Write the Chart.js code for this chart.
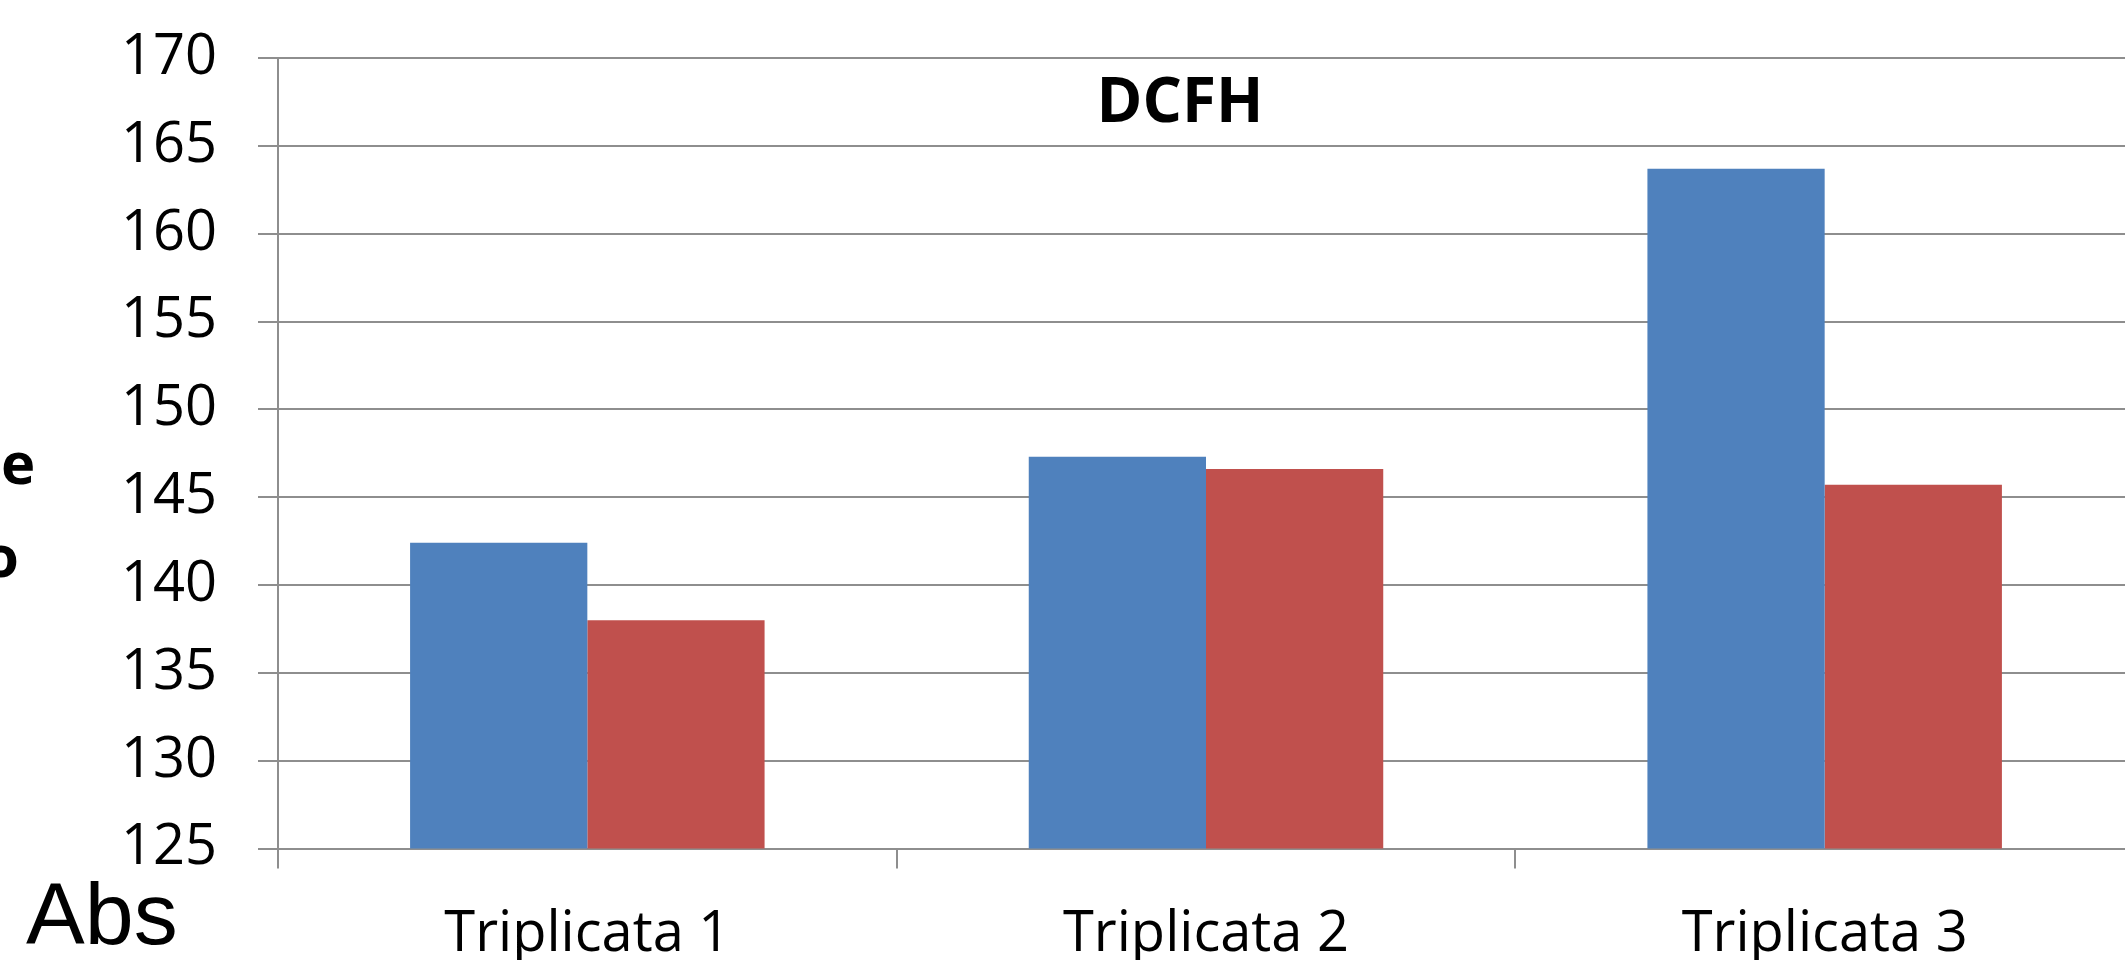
<!DOCTYPE html>
<html lang="pt-BR">
<head>
  <meta charset="UTF-8" />
  <title>DCFH</title>
  <script src="https://cdn.jsdelivr.net/npm/chart.js"></script>
  <style>
    html, body {
      margin: 0;
      padding: 0;
      background: #fff;
      overflow: hidden;
      width: 2125px;
      height: 960px;
    }
    .grafico {
      position: absolute;
      left: 0;
      top: 0;
      width: 2134px;
      height: 960px;
    }
  </style>
</head>
<body>
  <div class="grafico"><canvas id="graficoDCFH"></canvas></div>

  <script>
    const categorias = ['Triplicata 1', 'Triplicata 2', 'Triplicata 3'];
    const serie1 = [142.4, 147.3, 163.7];
    const serie2 = [138.0, 146.6, 145.7];
    const eixoMin = 125;
    const eixoMax = 170;
    const eixoPasso = 5;

    const cinza = '#8e8e8e';
    const fonteTicks = { family: '"Open Sans", sans-serif', size: 56 };

    // textos soltos: título dentro da área, rótulo "Abs" e sobras do título do eixo cortado
    const textosExtras = {
      id: 'textosExtras',
      afterDraw(chart) {
        const ctx = chart.ctx;
        const area = chart.chartArea;
        ctx.save();
        ctx.fillStyle = '#000';
        ctx.textBaseline = 'alphabetic';

        ctx.font = 'bold 62px "Open Sans", sans-serif';
        ctx.textAlign = 'center';
        ctx.fillText('DCFH', area.left + (area.right - area.left) * 0.486, 122);

        ctx.font = 'bold 58px "Open Sans", sans-serif';
        ctx.textAlign = 'left';
        ctx.fillText('e', 1, 484);
        ctx.textAlign = 'right';
        ctx.fillText('o', 19, 577);

        ctx.font = '88px "Liberation Sans", sans-serif';
        ctx.textAlign = 'left';
        ctx.fillText('Abs', 26, 944);
        ctx.restore();
      }
    };

    const grafico = new Chart(document.getElementById('graficoDCFH'), {
      type: 'bar',
      data: {
        labels: categorias,
        datasets: [
          { label: 'Série 1', data: serie1, backgroundColor: '#4f81bd', borderWidth: 0 },
          { label: 'Série 2', data: serie2, backgroundColor: '#c0504d', borderWidth: 0 }
        ]
      },
      options: {
        responsive: true,
        maintainAspectRatio: false,
        animation: false,
        datasets: { bar: { barPercentage: 1, categoryPercentage: 0.573 } },
        layout: { padding: { top: 58, right: 0, left: 0, bottom: 0 } },
        plugins: {
          legend: { display: false },
          title: { display: false },
          tooltip: { enabled: false }
        },
        scales: {
          x: {
            afterFit: scale => {
              scale.height = 111.5;
              scale.paddingLeft = 0;
              scale.paddingRight = 0;
            },
            grid: { drawOnChartArea: false, drawTicks: true, tickLength: 20, color: cinza, lineWidth: 2, offset: true },
            border: { display: true, color: cinza, width: 2 },
            ticks: { color: '#000', font: fonteTicks, padding: 33 }
          },
          y: {
            min: eixoMin,
            max: eixoMax,
            afterFit: scale => {
              scale.width = 278;
              scale.paddingTop = 0;
              scale.paddingBottom = 0;
            },
            grid: { drawOnChartArea: true, drawTicks: true, tickLength: 20, color: cinza, lineWidth: 2 },
            border: { display: true, color: cinza, width: 2 },
            ticks: { stepSize: eixoPasso, color: '#000', font: fonteTicks, padding: 41 }
          }
        }
      },
      plugins: [textosExtras]
    });
  </script>
</body>
</html>
